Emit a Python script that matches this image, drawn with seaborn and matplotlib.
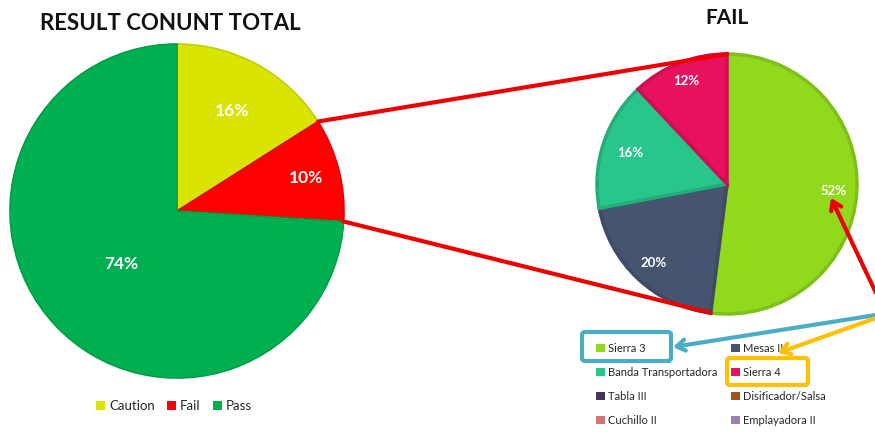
import numpy as np
import matplotlib
matplotlib.use("Agg")
import matplotlib.pyplot as plt
import seaborn as sns
from matplotlib.patches import Patch, ConnectionPatch, FancyArrowPatch, FancyBboxPatch

# Overall result counts
result_labels = ["Caution", "Fail", "Pass"]
result_values = [16, 10, 74]
result_colors = ["#D9E400", "#FF0000", "#00B050"]

# Breakdown of failures by machine
fail_labels = ["Sierra 3", "Mesas II", "Banda Transportadora", "Sierra 4"]
fail_values = [52, 20, 16, 12]
fail_colors = ["#92D91E", "#46556F", "#28C68A", "#E8115E"]

# Full machine list shown in the legend
legend_labels = ["Sierra 3", "Mesas II", "Banda Transportadora", "Sierra 4",
                 "Tabla III", "Disificador/Salsa", "Cuchillo II", "Emplayadora II"]
legend_colors = ["#92D91E", "#46556F", "#28C68A", "#E8115E",
                 "#46365E", "#A0541A", "#D07474", "#9A80B4"]

sns.set_theme(style="white")
plt.rcParams["font.family"] = ["Lato", "DejaVu Sans"]

W, H = 875, 432
fig = plt.figure(figsize=(W / 100, H / 100), dpi=100)


def px_axes(cx, cy, r):
    return fig.add_axes([(cx - r) / W, 1 - (cy + r) / H, 2 * r / W, 2 * r / H])


def darker(c, f=0.85):
    rgb = np.array(matplotlib.colors.to_rgb(c))
    return tuple(rgb * f)


# ---- left pie: overall results ----
ax1 = px_axes(177, 211, 167)
wedges1, _ = ax1.pie(result_values, colors=result_colors, startangle=90,
                     counterclock=False, radius=1.0,
                     wedgeprops=dict(linewidth=1.2))
for w, c in zip(wedges1, result_colors):
    w.set_edgecolor(darker(c, 0.9))
ax1.set_xlim(-1, 1)
ax1.set_ylim(-1, 1)
ax1.set_aspect("equal")
ax1.axis("off")

left_dist = [0.68, 0.80, 0.46]
cum = np.cumsum([0] + result_values)
tot = sum(result_values)
for i, v in enumerate(result_values):
    mid = np.deg2rad(90 - 360 * (cum[i] + v / 2) / tot)
    ax1.text(left_dist[i] * np.cos(mid), left_dist[i] * np.sin(mid), f"{v}%",
             ha="center", va="center", color="white", fontsize=12.5,
             fontweight="bold")

# ---- right pie: failures ----
ax2 = px_axes(727, 184, 130)
wedges2, _ = ax2.pie(fail_values, colors=fail_colors, startangle=90,
                     counterclock=False, radius=1.0,
                     wedgeprops=dict(linewidth=2.5))
for w, c in zip(wedges2, fail_colors):
    w.set_edgecolor(darker(c, 0.88))
    w.set_clip_on(False)
ax2.set_xlim(-1, 1)
ax2.set_ylim(-1, 1)
ax2.set_aspect("equal")
ax2.axis("off")

right_dist = [0.82, 0.83, 0.78, 0.85]
cum2 = np.cumsum([0] + fail_values)
tot2 = sum(fail_values)
for i, v in enumerate(fail_values):
    mid = np.deg2rad(90 - 360 * (cum2[i] + v / 2) / tot2)
    ax2.text(right_dist[i] * np.cos(mid), right_dist[i] * np.sin(mid), f"{v}%",
             ha="center", va="center", color="white", fontsize=9.5,
             fontweight="bold")

# ---- connector lines from the Fail slice to the breakdown pie ----
a_top = np.deg2rad(90 - 360 * cum[1] / tot)
a_bot = np.deg2rad(90 - 360 * cum[2] / tot)
b_bot = np.deg2rad(90 - 360 * cum2[1] / tot2)
for pa, pb in [((np.cos(a_top), np.sin(a_top)), (0, 1)),
               ((np.cos(a_bot), np.sin(a_bot)), (np.cos(b_bot), np.sin(b_bot)))]:
    con = ConnectionPatch(xyA=pa, coordsA=ax1.transData, xyB=pb,
                          coordsB=ax2.transData, color="#EE0000", lw=3)
    fig.add_artist(con)

# ---- titles ----
fig.text(170 / W, 1 - 23 / H, "RESULT CONUNT TOTAL", ha="center", va="center",
         fontsize=16, fontweight="bold", color="#111111")
fig.text(727 / W, 1 - 18 / H, "FAIL", ha="center", va="center",
         fontsize=15, fontweight="bold", color="#111111")

# ---- legends ----
h1 = [Patch(facecolor=c, edgecolor="none") for c in result_colors]
fig.legend(h1, result_labels, loc="center", bbox_to_anchor=(174 / W, 1 - 406 / H),
           ncol=3, frameon=False, fontsize=9.5, handlelength=0.7, handleheight=0.7,
           handletextpad=0.3, columnspacing=0.9, borderpad=0, borderaxespad=0)

h2 = [Patch(facecolor=c, edgecolor="none") for c in legend_colors]
order = [0, 2, 4, 6, 1, 3, 5, 7]
fig.legend([h2[i] for i in order], [legend_labels[i] for i in order],
           loc="upper left", bbox_to_anchor=(596 / W, 1 - 343 / H),
           ncol=2, frameon=False, fontsize=8, handlelength=0.8, handleheight=0.8,
           handletextpad=0.3, columnspacing=1.2, labelspacing=1.17,
           borderpad=0, borderaxespad=0)

# ---- callout boxes and arrows (pixel overlay) ----
ov = fig.add_axes([0, 0, 1, 1], zorder=10)
ov.set_xlim(0, W)
ov.set_ylim(H, 0)
ov.axis("off")
ov.patch.set_alpha(0)

ov.add_patch(FancyBboxPatch((582, 332), 89, 29, boxstyle="round,pad=0,rounding_size=3",
                            fill=False, edgecolor="#4BACC6", lw=3))
ov.add_patch(FancyBboxPatch((727, 358), 81, 27, boxstyle="round,pad=0,rounding_size=3",
                            fill=False, edgecolor="#FFC000", lw=3))

for start, end, col in [((876, 315), (673, 347), "#4BACC6"),
                        ((876, 318), (778, 353), "#FFC000"),
                        ((876, 293), (831, 198), "#EE0000")]:
    ov.add_patch(FancyArrowPatch(start, end, arrowstyle="->,head_length=6,head_width=4",
                                 color=col, lw=3, mutation_scale=1,
                                 shrinkA=0, shrinkB=0))

fig.savefig("out.png", dpi=100)
